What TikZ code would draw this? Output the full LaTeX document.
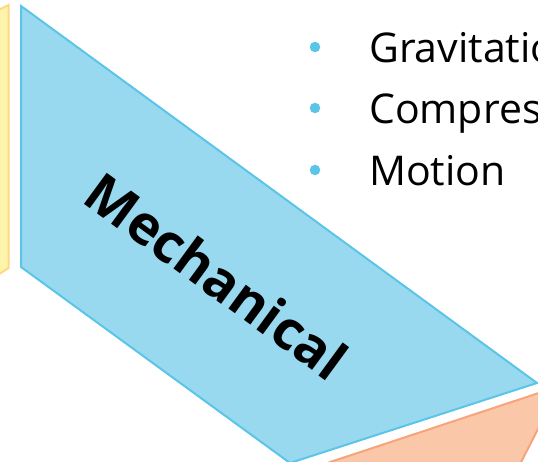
\documentclass[tikz,border=0pt]{standalone}
\usepackage{fontspec}
\setmainfont{Open Sans}
\definecolor{bluefill}{HTML}{98D9F0}
\definecolor{bluedraw}{HTML}{5BC5E8}
\definecolor{yelfill}{HTML}{FFF5AA}
\definecolor{yeldraw}{HTML}{FFD982}
\definecolor{orfill}{HTML}{FAC8A8}
\definecolor{ordraw}{HTML}{F6A47A}
\tikzset{
  panel/.style={line width=2pt, line join=miter},
  bullettext/.style={anchor=base west, font=\fontsize{41}{48}\selectfont, inner sep=0pt, text=black},
  bulletdot/.style={circle, fill=bluedraw, inner sep=0pt, minimum size=10.5pt},
  title/.style={anchor=base, font=\fontsize{54}{60}\selectfont\bfseries, inner sep=0pt, rotate=-36.2}
}
\begin{document}
\begin{tikzpicture}[x=1pt,y=-1pt]
\useasboundingbox (0,0) rectangle (538,462);
\clip (0,0) rectangle (538,462);
% yellow panel (left, cut off)
\path[panel, fill=yelfill, draw=yeldraw] (-40,30) -- (8.5,5) -- (8.5,268) -- (-40,300) -- cycle;
% blue panel
\path[panel, fill=bluefill, draw=bluedraw] (21,6) -- (537,383) -- (290,463) -- (21,267) -- cycle;
% orange panel
\path[panel, fill=orfill, draw=ordraw] (560,386) -- (300,472) -- (516,472) -- cycle;
\node[title] (mech) at (205,292) {Mechanical};
\node[bulletdot] (b1) at (315,47) {};
\node[bulletdot] (b2) at (315,108) {};
\node[bulletdot] (b3) at (315,170) {};
\node[bullettext] (t1) at (369,63) {Gravitational};
\node[bullettext] (t2) at (369,124) {Compression};
\node[bullettext] (t3) at (369,186) {Motion};
\end{tikzpicture}
\end{document}
